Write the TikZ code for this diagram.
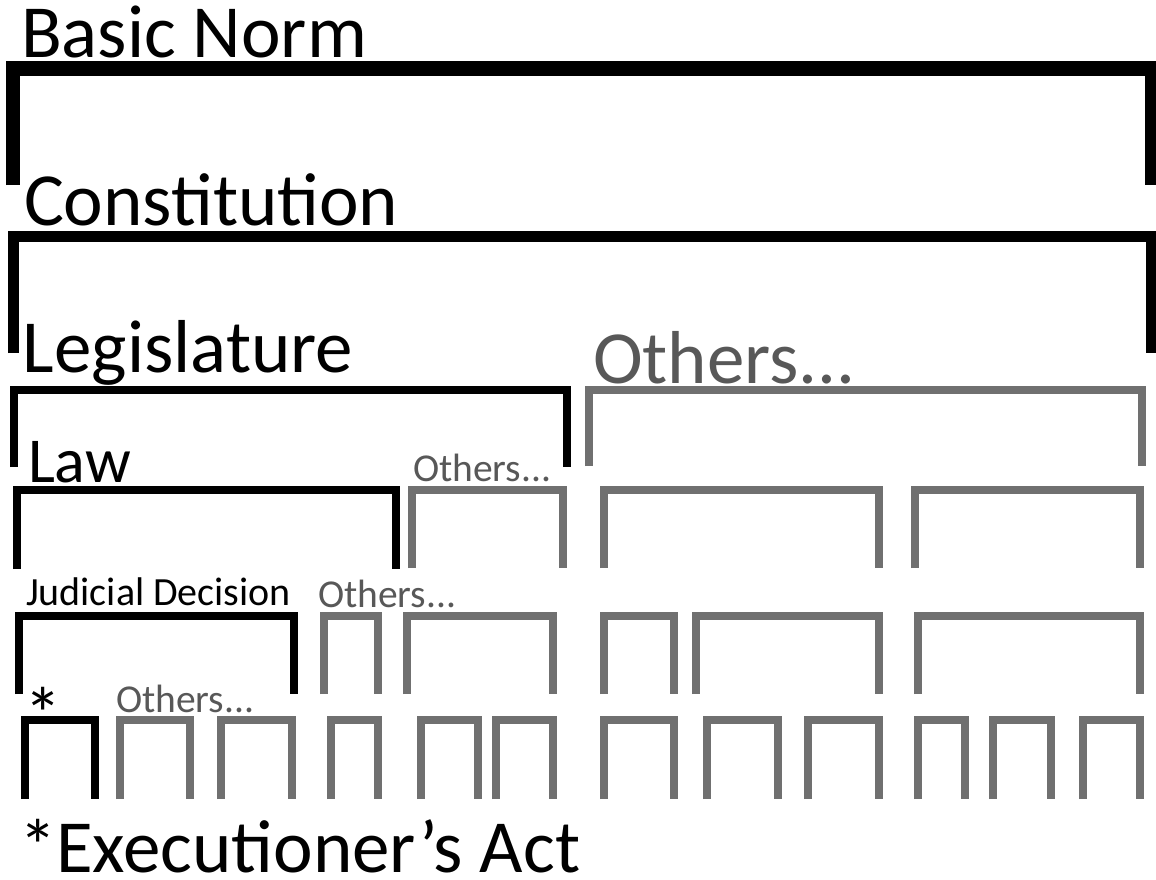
\documentclass[tikz,border=0pt]{standalone}
\usepackage{fontspec}
\setmainfont{Carlito}
\definecolor{linegray}{HTML}{707070}
\definecolor{textgray}{HTML}{585858}
\begin{document}
\begin{tikzpicture}[x=1pt,y=-1pt,
  lbl/.style={anchor=base west, inner sep=0pt, outer sep=0pt},
  big/.style={lbl, font=\fontsize{75}{80}\selectfont},
  mid/.style={lbl, font=\fontsize{64}{70}\selectfont},
  small/.style={lbl, font=\fontsize{39.5}{44}\selectfont},
  othr/.style={text=textgray},
  brk/.style={line cap=butt, line join=miter},
  blk/.style={brk, draw=black, line width=8.5pt},
  gry/.style={brk, draw=linegray, line width=8pt}]
\useasboundingbox (0,0) rectangle (1156,879);
\fill[white] (0,0) rectangle (1156,879);

% level 1
\draw[brk, draw=black, line width=14.5pt] (13,185) |- (1152,68.5) -- (1152,185);
% level 2
\draw[brk, draw=black, line width=11.5pt] (13.5,353) |- (1151.5,236.5) -- (1151.5,353);
% level 3
\draw[blk, line width=8pt] (14,467) |- (567,390) -- (567,467);
\draw[gry] (589,466) |- (1142,390) -- (1142,466);
% level 4
\draw[blk] (17,569) |- (396,490) -- (396,569);
\foreach \a/\b in {412/563, 604/879, 915/1140}
  \draw[gry] (\a,568) |- (\b,490) -- (\b,568);
% level 5
\draw[blk] (19,694) |- (294,616) -- (294,694);
\foreach \a/\b in {324/378, 407/553, 604/674, 696/879, 918/1140}
  \draw[gry] (\a,694) |- (\b,616) -- (\b,694);
% level 6
\draw[blk] (25,799) |- (95,720) -- (95,799);
\foreach \a/\b in {120/190, 221/292, 331/378, 421/478, 496/553, 604/674, 707/778, 808/879, 918/965, 993/1051, 1083/1140}
  \draw[gry] (\a,799) |- (\b,720) -- (\b,799);

% labels
\node[big] (basic) at (21,57) {Basic Norm};
\node[big] (const) at (24,225) {Constitution};
\node[big] (legis) at (23,372) {Legislature};
\node[big, othr] (oth1) at (593,383) {Others...};
\node[mid] (law) at (28,482) {Law};
\node[small, othr] (oth2) at (413,481) {Others...};
\node[small, font=\fontsize{40}{44}\selectfont] (jud) at (26,605) {Judicial Decision};
\node[small, othr] (oth3) at (318,607) {Others...};
\node[big] (star) at (24,740) {*};
\node[small, othr] (oth4) at (116,712) {Others...};
\node[big] (exec) at (19,872) {*Executioner’s Act};
\end{tikzpicture}
\end{document}
